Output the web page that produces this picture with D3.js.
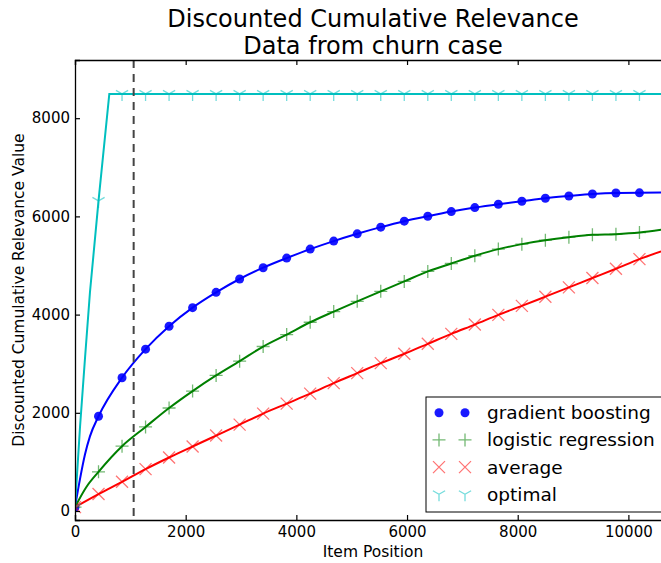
<!DOCTYPE html>
<html>
<head>
<meta charset="utf-8">
<script src="https://cdn.jsdelivr.net/npm/d3@7/dist/d3.min.js"></script>
<style>
  body { margin: 0; background: #fff; }
  svg { display: block; font-family: "DejaVu Sans", sans-serif; }
</style>
</head>
<body>
<div class="chart"></div>
<script>
// item positions where markers sit (every 425 items) + right edge of the plot
const positions = [0, 425, 850, 1275, 1700, 2125, 2550, 2975, 3400, 3825, 4250, 4675, 5100,
  5525, 5950, 6375, 6800, 7225, 7650, 8075, 8500, 8925, 9350, 9775, 10200, 10590];

const gradientBoosting = [80, 1929, 2715, 3296, 3763, 4142, 4453, 4725, 4955, 5151, 5334, 5497, 5645,
  5781, 5903, 6004, 6098, 6179, 6248, 6309, 6370, 6416, 6457, 6477, 6480, 6485];
const logisticRegression = [80, 798, 1320, 1712, 2098, 2443, 2761, 3052, 3350, 3594, 3844, 4061, 4270,
  4473, 4676, 4879, 5041, 5198, 5334, 5435, 5516, 5577, 5624, 5638, 5671, 5726];
const average = [80, 345, 595, 853, 1090, 1314, 1537, 1760, 1984, 2187, 2390, 2605, 2808,
  3011, 3202, 3405, 3608, 3797, 3994, 4177, 4365, 4554, 4745, 4934, 5130, 5286];
const optimal = [80, 6315, 8495, 8495, 8495, 8495, 8495, 8495, 8495, 8495, 8495, 8495, 8495,
  8495, 8495, 8495, 8495, 8495, 8495, 8495, 8495, 8495, 8495, 8495, 8495, 8495];

// extra points on the steep start of some curves (no markers there)
const boostingStart = [[90, 650], [180, 1150], [270, 1520]];
const logisticStart = [[200, 480]];
const optimalStart = [[90, 1700], [180, 3100], [270, 4450], [620, 8495]];

const cutoff = 1060;  // dashed vertical line
const xTicks = [0, 2000, 4000, 6000, 8000, 10000];
const yTicks = [0, 2000, 4000, 6000, 8000];

const title1 = "Discounted Cumulative Relevance";
const title2 = "Data from churn case";

const W = 661, H = 563;
const box = {left: 75, right: 671, top: 60, bottom: 520};

const x = d3.scaleLinear().domain([0, 10770]).range([box.left, box.right]);
const y = d3.scaleLinear().domain([-183, 9185]).range([box.bottom, box.top]);

const svg = d3.select(".chart").append("svg")
    .attr("width", W)
    .attr("height", H);

svg.append("clipPath").attr("id", "plot")
  .append("rect")
    .attr("x", box.left).attr("y", box.top)
    .attr("width", box.right - box.left).attr("height", box.bottom - box.top);

// marker shapes, centred on 0,0
const markerPath = {
  dot: null,
  plus: "M-6.5,0H6.5M0,-6.5V6.5",
  cross: "M-6,-6L6,6M-6,6L6,-6",
  tri: "M0,0V7M0,0L-6.1,-3.5M0,0L6.1,-3.5"
};

const series = [
  {name: "gradient boosting", values: gradientBoosting, start: boostingStart, color: "#0000ff", marker: "dot", curve: d3.curveMonotoneX},
  {name: "logistic regression", values: logisticRegression, start: logisticStart, color: "#008000", marker: "plus", curve: d3.curveMonotoneX},
  {name: "average", values: average, start: [], color: "#ff0000", marker: "cross", curve: d3.curveMonotoneX},
  {name: "optimal", values: optimal, start: optimalStart, color: "#00bfbf", marker: "tri", curve: d3.curveLinear}
];

function drawMarker(g, type, color, cx, cy) {
  if (type === "dot") {
    g.append("circle")
      .attr("cx", cx).attr("cy", cy).attr("r", 4.5)
      .attr("fill", color).attr("fill-opacity", 0.9);
  } else {
    g.append("path")
      .attr("transform", "translate(" + cx + "," + cy + ")")
      .attr("d", markerPath[type])
      .attr("fill", "none")
      .attr("stroke", color)
      .attr("stroke-width", 1.3)
      .attr("stroke-opacity", 0.55);
  }
}

const plot = svg.append("g").attr("clip-path", "url(#plot)");

series.forEach(function(s) {
  let pts = positions.map(function(p, i) { return [p, s.values[i]]; });
  pts = pts.concat(s.start).sort(function(a, b) { return a[0] - b[0]; });

  const line = d3.line()
      .x(function(d) { return x(d[0]); })
      .y(function(d) { return y(d[1]); })
      .curve(s.curve);

  plot.append("path")
      .datum(pts)
      .attr("d", line)
      .attr("fill", "none")
      .attr("stroke", s.color)
      .attr("stroke-width", 2);

  const mg = plot.append("g");
  positions.forEach(function(p, i) {
    if (i === positions.length - 1) return;  // edge point has no marker
    drawMarker(mg, s.marker, s.color, x(p), y(s.values[i]));
  });
});

// dashed cutoff line
svg.append("line")
    .attr("x1", x(cutoff)).attr("x2", x(cutoff))
    .attr("y1", box.top).attr("y2", box.bottom)
    .attr("stroke", "#444")
    .attr("stroke-width", 2)
    .attr("stroke-dasharray", "8,6");

// axes (ticks point inward, classic style)
const xAxis = d3.axisBottom(x).tickValues(xTicks).tickSize(-5).tickPadding(6).tickFormat(d3.format("d"));
const yAxis = d3.axisLeft(y).tickValues(yTicks).tickSize(-5).tickPadding(5).tickFormat(d3.format("d"));

const gx = svg.append("g")
    .attr("transform", "translate(0," + box.bottom + ")")
    .call(xAxis);
const gy = svg.append("g")
    .attr("transform", "translate(" + box.left + ",0)")
    .call(yAxis);
const gTop = svg.append("g")
    .attr("transform", "translate(0," + box.top + ")")
    .call(d3.axisTop(x).tickValues(xTicks).tickSize(-5).tickFormat(""));
const gRight = svg.append("g")
    .attr("transform", "translate(" + box.right + ",0)")
    .call(d3.axisRight(y).tickValues(yTicks).tickSize(-5).tickFormat(""));

[gx, gy, gTop, gRight].forEach(function(g) {
  g.select(".domain").attr("stroke", "#000").attr("stroke-width", 1.3);
  g.selectAll(".tick line").attr("stroke", "#000").attr("stroke-width", 1.2);
  g.selectAll(".tick text")
      .attr("fill", "#000")
      .style("font-family", "DejaVu Sans")
      .style("font-size", "15px");
});
[gTop, gRight].forEach(function(g) { g.selectAll(".tick text").remove(); });

// axis labels
svg.append("text")
    .attr("x", (box.left + box.right) / 2)
    .attr("y", 557)
    .attr("text-anchor", "middle")
    .style("font-size", "15.5px")
    .text("Item Position");

svg.append("text")
    .attr("transform", "translate(24," + (box.top + box.bottom) / 2 + ") rotate(-90)")
    .attr("text-anchor", "middle")
    .style("font-size", "15.5px")
    .text("Discounted Cumulative Relevance Value");

// title
svg.append("text")
    .attr("x", (box.left + box.right) / 2).attr("y", 27)
    .attr("text-anchor", "middle")
    .style("font-size", "24px")
    .text(title1);
svg.append("text")
    .attr("x", (box.left + box.right) / 2).attr("y", 54)
    .attr("text-anchor", "middle")
    .style("font-size", "24px")
    .text(title2);

// legend
const legend = svg.append("g");
legend.append("rect")
    .attr("x", 426).attr("y", 397)
    .attr("width", 237).attr("height", 115)
    .attr("fill", "#fff")
    .attr("stroke", "#000")
    .attr("stroke-width", 1);

series.forEach(function(s, i) {
  const cy = 412.7 + i * 27.2;
  drawMarker(legend, s.marker, s.color, 439, cy);
  drawMarker(legend, s.marker, s.color, 465, cy);
  legend.append("text")
      .attr("x", 487).attr("y", cy)
      .attr("dy", "0.35em")
      .style("font-size", "18.5px")
      .text(s.name);
});
</script>
</body>
</html>
